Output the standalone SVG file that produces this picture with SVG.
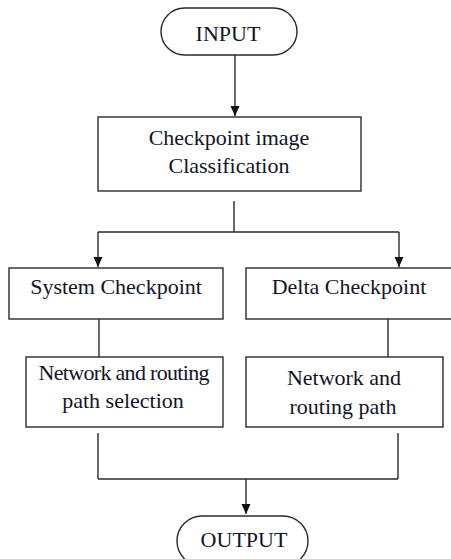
<svg xmlns="http://www.w3.org/2000/svg" width="451" height="559" viewBox="0 0 451 559">
<defs>
<marker id="arr" markerWidth="12" markerHeight="12" refX="10" refY="5" orient="auto" markerUnits="userSpaceOnUse">
<path d="M0,0.5 L10,5 L0,9.5 Z" fill="#111"/>
</marker>
<style>
.box{fill:#fff;stroke:#2a2a2a;stroke-width:1.4}
.ln{fill:none;stroke:#2a2a2a;stroke-width:1.4}
.t{font-family:"Liberation Serif","Times New Roman",serif;font-size:22px;fill:#141428;text-anchor:middle}
</style>
</defs>
<rect width="451" height="559" fill="#fff"/>
<g id="connectors">
<line class="ln" x1="235" y1="55" x2="235" y2="116" marker-end="url(#arr)"/>
<line class="ln" x1="234" y1="201" x2="234" y2="232"/>
<line class="ln" x1="98" y1="232" x2="399" y2="232"/>
<line class="ln" x1="98" y1="232" x2="98" y2="267" marker-end="url(#arr)"/>
<line class="ln" x1="399" y1="232" x2="399" y2="267" marker-end="url(#arr)"/>
<line class="ln" x1="99" y1="319" x2="99" y2="357"/>
<line class="ln" x1="388" y1="319" x2="388" y2="357"/>
<line class="ln" x1="98" y1="433" x2="98" y2="479"/>
<line class="ln" x1="398" y1="433" x2="398" y2="479"/>
<line class="ln" x1="98" y1="479" x2="398" y2="479"/>
<line class="ln" x1="246" y1="479" x2="246" y2="514" marker-end="url(#arr)"/>
</g>
<g id="input">
<rect class="box" x="161" y="8" width="136" height="47" rx="23.5"/>
<text class="t" x="228" y="41">INPUT</text>
</g>
<g id="classification">
<rect class="box" x="98" y="117" width="263" height="74"/>
<text class="t" x="229" y="145">Checkpoint image</text>
<text class="t" x="229" y="173">Classification</text>
</g>
<g id="system">
<rect class="box" x="9" y="268" width="214" height="51"/>
<text class="t" x="116" y="294">System Checkpoint</text>
</g>
<g id="delta">
<rect class="box" x="246" y="268" width="210" height="51"/>
<text class="t" x="349" y="294">Delta Checkpoint</text>
</g>
<g id="net1">
<rect class="box" x="26" y="357" width="197" height="70"/>
<text class="t" x="124" y="380" textLength="171" lengthAdjust="spacing">Network and routing</text>
<text class="t" x="123" y="408">path selection</text>
</g>
<g id="net2">
<rect class="box" x="246" y="357" width="197" height="70"/>
<text class="t" x="344" y="385">Network and</text>
<text class="t" x="343" y="414">routing path</text>
</g>
<g id="output">
<rect class="box" x="177" y="516" width="131" height="50" rx="25"/>
<text class="t" x="244" y="547">OUTPUT</text>
</g>
</svg>
